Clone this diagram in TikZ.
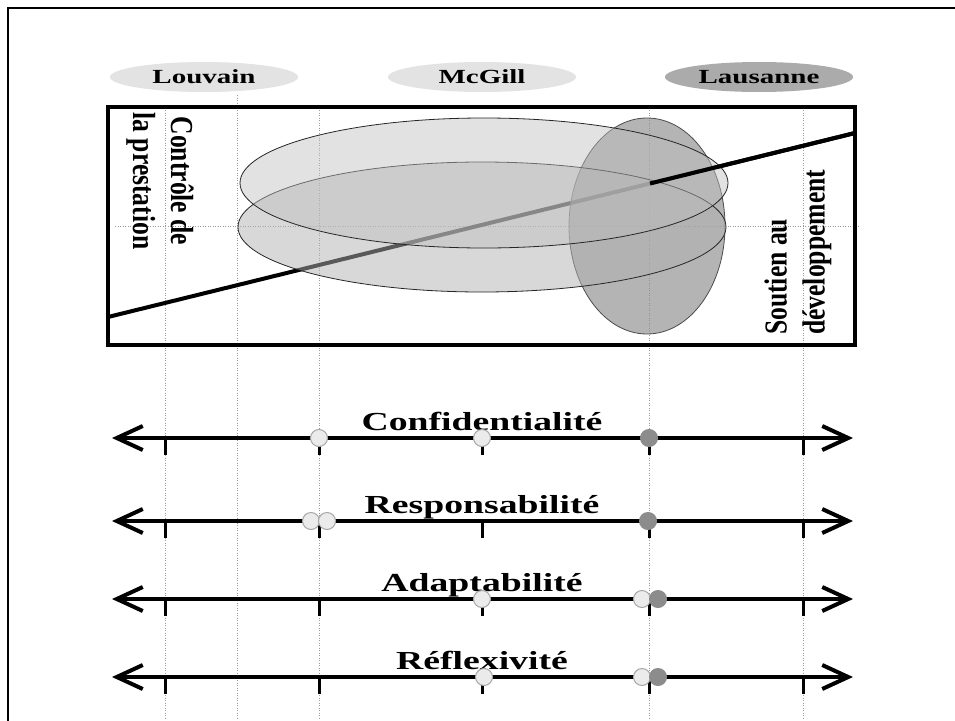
\documentclass[tikz,border=0pt]{standalone}
\usepackage{fontspec}
\setmainfont{Liberation Serif}
\newfontfamily\widefont[FakeStretch=1.45]{Liberation Serif}
\newfontfamily\tallfont[FakeStretch=0.8]{Liberation Serif}
\usetikzlibrary{arrows.meta}
\usetikzlibrary{shapes.geometric}

\begin{document}
\begin{tikzpicture}[x=1pt,y=-1pt,>={Straight Barb[length=26pt,width=24pt]},
    uni/.style={ellipse,minimum width=188pt,minimum height=30pt,inner sep=0pt,
      font=\widefont\bfseries\fontsize{20}{24}\selectfont},
    grid line/.style={black!40,line width=1pt,dash pattern=on 1pt off 1.5pt},
    axis/.style={<->,line width=4pt},
    tick/.style={line width=3pt},
    axis label/.style={anchor=base,inner sep=0pt,
      font=\widefont\bfseries\fontsize{26}{30}\selectfont},
    side label/.style={inner sep=0pt,
      font=\tallfont\bfseries\fontsize{32}{38}\selectfont},
    light dot/.style={circle,draw=black!35,fill=black!8,line width=1pt,
      minimum size=17pt,inner sep=0pt},
    dark dot/.style={circle,draw=black!45,fill=black!45,line width=1pt,
      minimum size=17pt,inner sep=0pt}]

  \useasboundingbox (0,0) rectangle (955,720);
  \clip (0,0) rectangle (955,720);
  \fill[white] (0,0) rectangle (955,720);
  \draw[line width=2pt] (8,730) -- (8,8) -- (965,8);

  % universities
  \node[uni,fill=black!11] (louvain) at (204,77) {Louvain};
  \node[uni,fill=black!11] (mcgill) at (482,77) {McGill};
  \node[uni,fill=black!33] (lausanne) at (759,77) {Lausanne};

  % reference lines
  \foreach \x in {165,319,649,803}
    \draw[grid line] (\x,110) -- (\x,720);
  \draw[grid line] (237,95) -- (237,720);
  \draw[grid line] (115,226) -- (858,226);

  % continuum
  \coordinate (lo) at (108,317);
  \coordinate (mid) at (650,183.5);
  \coordinate (hi) at (855,133);
  \draw[line width=4pt] (lo) -- (hi);

  \draw[draw=black!70,line width=0.8pt,fill=black!45,fill opacity=0.65]
    (647,226) ellipse [x radius=78,y radius=108];
  \draw[draw=black!85,line width=0.8pt,fill=black!30,fill opacity=0.5]
    (482,227) ellipse [x radius=244,y radius=65];
  \draw[draw=black!85,line width=0.8pt,fill=black!25,fill opacity=0.45]
    (484,183) ellipse [x radius=244,y radius=65];

  \draw[line width=4pt] (mid) -- (hi);
  \draw[line width=4.5pt] (108,107) rectangle (855,345);

  \node[side label,rotate=-90,align=center] (controle) at (160,181)
    {Contrôle de\\la prestation};
  \node[side label,rotate=90,align=left,anchor=west] (soutien) at (798,335)
    {Soutien au\\développement};

  % criteria
  \coordinate (conf l) at (112,438);  \coordinate (conf r) at (853,438);
  \coordinate (resp l) at (112,521);  \coordinate (resp r) at (853,521);
  \coordinate (adapt l) at (112,599); \coordinate (adapt r) at (853,599);
  \coordinate (refl l) at (112,677);  \coordinate (refl r) at (853,677);

  \draw[axis] (conf l) -- (conf r);
  \draw[axis] (resp l) -- (resp r);
  \draw[axis] (adapt l) -- (adapt r);
  \draw[axis] (refl l) -- (refl r);

  \foreach \y in {438,521,599,677}
    \foreach \x in {165,319,482,649,803}
      \draw[tick] (\x,\y) -- (\x,\y+17);

  \node[axis label] (conf) at (482,430) {Confidentialité};
  \node[axis label] (resp) at (482,513) {Responsabilité};
  \node[axis label] (adapt) at (482,591) {Adaptabilité};
  \node[axis label] (refl) at (482,669) {Réflexivité};

  \node[light dot] (conf lv) at (319,438) {};
  \node[light dot] (conf mg) at (482,438) {};
  \node[dark dot] (conf la) at (649,438) {};

  \node[light dot] (resp lv) at (311,521) {};
  \node[light dot] (resp mg) at (327,521) {};
  \node[dark dot] (resp la) at (648,521) {};

  \node[light dot] (adapt lv) at (482,599) {};
  \node[light dot] (adapt mg) at (642,599) {};
  \node[dark dot] (adapt la) at (658,599) {};

  \node[light dot] (refl lv) at (484,677) {};
  \node[light dot] (refl mg) at (642,677) {};
  \node[dark dot] (refl la) at (658,677) {};
\end{tikzpicture}
\end{document}
